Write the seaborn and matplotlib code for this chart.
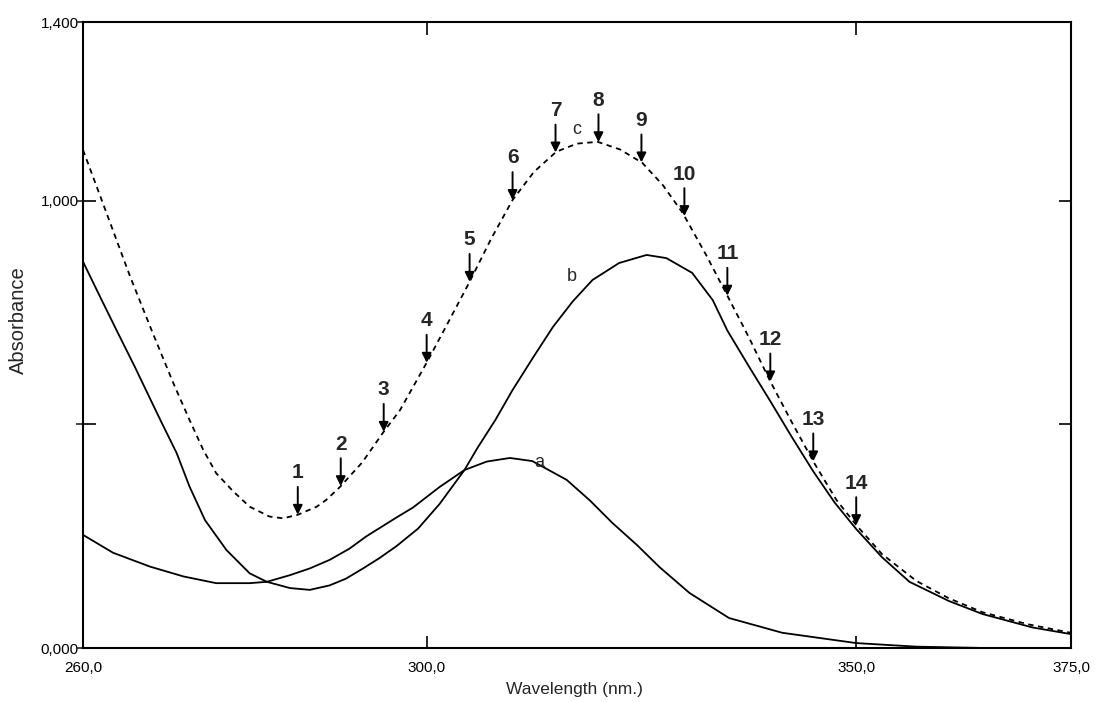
import numpy as np
import pandas as pd
import matplotlib
matplotlib.use("Agg")
import matplotlib.pyplot as plt
import seaborn as sns

# ---- data ----
wl_a = [260, 263.5, 267.8, 271.7, 275.5, 279.4, 281.4, 284.1, 286.4, 288.7, 291.0, 293.0,
        296.5, 298.4, 301.5, 304.4, 307.0, 309.7, 312.3, 316.3, 319.0, 321.6, 324.5, 327.1,
        330.6, 335.2, 341.4, 350.0, 357.0, 365.0, 375.0]
abs_a = [0.253, 0.213, 0.182, 0.160, 0.145, 0.145, 0.148, 0.163, 0.178, 0.197, 0.222, 0.250,
         0.292, 0.314, 0.360, 0.398, 0.417, 0.425, 0.418, 0.376, 0.330, 0.280, 0.230, 0.181,
         0.123, 0.067, 0.034, 0.011, 0.003, 0.0, 0.0]

wl_b = [260, 262, 264, 266, 268, 269.0, 270.9, 272.4, 274.2, 276.7, 279.4, 281.4, 284.1,
        286.4, 288.7, 290.6, 292.6, 294.5, 296.5, 299.0, 301.5, 304.4, 305.9, 308.0, 310.0,
        312.4, 314.7, 317.0, 319.3, 322.4, 325.6, 327.9, 330.9, 333.3, 335.0, 337.5, 340.0,
        342.5, 345.0, 347.5, 350.0, 353.0, 356.2, 360.8, 364.7, 370.5, 375.0]
abs_b = [0.864, 0.785, 0.707, 0.630, 0.550, 0.510, 0.436, 0.361, 0.286, 0.219, 0.167, 0.148,
         0.134, 0.130, 0.140, 0.155, 0.178, 0.201, 0.228, 0.267, 0.322, 0.398, 0.447, 0.510,
         0.577, 0.650, 0.718, 0.775, 0.823, 0.861, 0.879, 0.872, 0.839, 0.778, 0.710, 0.630,
         0.552, 0.472, 0.395, 0.325, 0.266, 0.203, 0.148, 0.105, 0.076, 0.046, 0.031]

wl_c = [260, 262.5, 265.5, 268.0, 270.5, 272.4, 274.0, 275.5, 277.5, 279.4, 281.7, 283.3,
        285.0, 287.2, 288.3, 289.9, 292.5, 294.9, 296.9, 300.0, 302.5, 305.0, 307.5, 310.0,
        312.5, 315.1, 317.5, 319.9, 322.5, 325.1, 327.5, 329.8, 332.5, 335.0, 337.5, 339.9,
        342.5, 345.1, 347.7, 350.0, 353.0, 357.0, 360.8, 364.7, 370.0, 375.0]
abs_c = [1.114, 0.985, 0.830, 0.710, 0.593, 0.510, 0.443, 0.391, 0.350, 0.316, 0.294, 0.290,
         0.298, 0.316, 0.331, 0.360, 0.415, 0.481, 0.532, 0.638, 0.728, 0.819, 0.915, 1.002,
         1.065, 1.110, 1.128, 1.132, 1.115, 1.085, 1.035, 0.973, 0.880, 0.788, 0.695, 0.600,
         0.505, 0.414, 0.331, 0.275, 0.210, 0.150, 0.111, 0.080, 0.053, 0.034]

arrow_wl = [285, 290, 295, 300, 305, 310, 315, 320, 325, 330, 335, 340, 345, 350]
arrow_labels = ["1", "2", "3", "4", "5", "6", "7", "8", "9", "10", "11", "12", "13", "14"]

curve_names = ["a", "b", "c"]
curve_label_x = [313.1, 316.9, 317.5]
curve_label_y = [0.414, 0.830, 1.160]

x_ticks = [260, 300, 350, 375]
x_ticklabels = ["260,0", "300,0", "350,0", "375,0"]
y_ticks = [0.0, 0.5, 1.0, 1.4]
y_ticklabels = ["0,000", "", "1,000", "1,400"]

# ---- style ----
sns.set_style("ticks")
plt.rcParams["font.family"] = ["Liberation Sans", "DejaVu Sans"]

fig = plt.figure(figsize=(10.97, 7.02), dpi=100)
ax = fig.add_axes([83 / 1097, 54 / 702, 988 / 1097, 626 / 702])

df_a = pd.DataFrame({"wl": wl_a, "A": abs_a})
df_b = pd.DataFrame({"wl": wl_b, "A": abs_b})
df_c = pd.DataFrame({"wl": wl_c, "A": abs_c})

sns.lineplot(data=df_a, x="wl", y="A", ax=ax, color="black", lw=1.3, errorbar=None)
sns.lineplot(data=df_b, x="wl", y="A", ax=ax, color="black", lw=1.3, errorbar=None)
sns.lineplot(data=df_c, x="wl", y="A", ax=ax, color="black", lw=1.3, errorbar=None,
             linestyle=(0, (3, 2.5)))

ax.set_xlim(260, 375)
ax.set_ylim(0, 1.4)

# arrows with numbers on curve c
for w, lab in zip(arrow_wl, arrow_labels):
    yv = float(np.interp(w, wl_c, abs_c))
    ax.annotate(lab, xy=(w, yv), xytext=(0, 42), textcoords="offset pixels",
                ha="center", va="center", fontsize=15, fontweight="bold",
                arrowprops=dict(arrowstyle="-|>", color="black", lw=1.4,
                                shrinkA=1, shrinkB=0, mutation_scale=14))

for name, lx, ly in zip(curve_names, curve_label_x, curve_label_y):
    ax.text(lx, ly, name, fontsize=13, ha="center", va="center")

# ticks
ax.set_xticks(x_ticks)
ax.set_xticklabels(x_ticklabels)
ax.set_yticks(y_ticks)
ax.set_yticklabels(y_ticklabels)
ax.tick_params(axis="both", which="major", direction="in", length=9, width=1.2,
               top=True, right=True, labelsize=11, colors="black")
ax.tick_params(axis="x", which="major", pad=9)
ax.tick_params(axis="y", which="major", pad=3)
ax.yaxis.remove_overlapping_locs = False
ax.set_yticks(y_ticks, minor=True)
ax.tick_params(axis="y", which="minor", direction="out", length=5, width=1.2,
               left=True, right=False, labelleft=False)

for s in ax.spines.values():
    s.set_visible(True)
    s.set_color("black")
    s.set_linewidth(1.5)

ax.set_xlabel("Wavelength (nm.)", fontsize=12.5)
ax.set_ylabel("Absorbance", fontsize=14.5)
ax.xaxis.set_label_coords(0.497, -0.067)
ax.xaxis.label.set_va("center")
ax.yaxis.set_label_coords(-0.065, 0.523)
ax.yaxis.label.set_va("center")

fig.savefig("out.png", dpi=100, facecolor="white")
